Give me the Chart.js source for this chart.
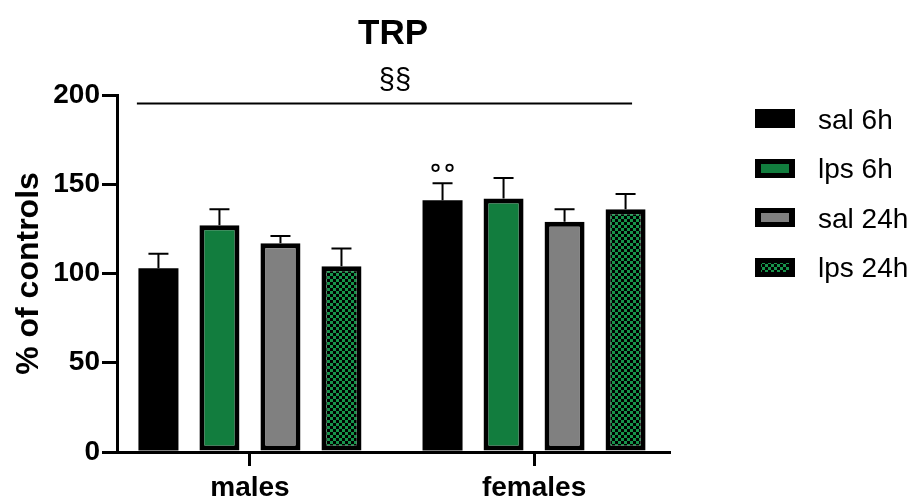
<!DOCTYPE html>
<html>
<head>
<meta charset="utf-8">
<script src="https://cdn.jsdelivr.net/npm/chart.js@4.4.1/dist/chart.umd.min.js"></script>
<style>
  html, body { margin: 0; padding: 0; background: #ffffff; }
  #wrap { width: 914px; height: 498px; }
</style>
</head>
<body>
<div id="wrap"><canvas id="c" width="914" height="498"></canvas></div>
<script>
// Groups and series
const groups = ['males', 'females'];
const seriesNames = ['sal 6h', 'lps 6h', 'sal 24h', 'lps 24h'];

// Mean values (% of controls) per group
const sal6h  = [103, 141];
const lps6h  = [127, 142];
const sal24h = [117, 129];
const lps24h = [104, 136];

// Upper error (SEM) per group
const sal6hErr  = [8, 9.5];
const lps6hErr  = [9, 11.5];
const sal24hErr = [4, 7];
const lps24hErr = [10, 8.5];

const yTicks = [0, 50, 100, 150, 200];

const chartTitle = 'TRP';
const yTitle = '% of controls';
const sigText = '§§';

const FONT = '"Liberation Sans", Arial, Helvetica, sans-serif';
Chart.defaults.font.family = FONT;
Chart.defaults.color = '#000';

const canvas = document.getElementById('c');
const ctx0 = canvas.getContext('2d');

// green / black checkerboard fill
function checker(light, dark, s) {
  const t = document.createElement('canvas');
  t.width = t.height = 2 * s;
  const g = t.getContext('2d');
  g.fillStyle = light; g.fillRect(0, 0, 2 * s, 2 * s);
  g.fillStyle = dark; g.fillRect(0, 0, s, s); g.fillRect(s, s, s, s);
  return ctx0.createPattern(t, 'repeat');
}

const GREEN = '#127d3e';
const fills = ['#000000', GREEN, '#808080', checker('#17934a', '#000000', 3)];
const values = [sal6h, lps6h, sal24h, lps24h];
const errors = [sal6hErr, lps6hErr, sal24hErr, lps24hErr];

const datasets = seriesNames.map((name, i) => ({
  label: name,
  data: values[i].map((v, j) => ({ x: j + 1, y: v })),
  errors: errors[i],
  backgroundColor: fills[i],
  borderColor: '#000',
  // solid black bars need no separate outline
  borderWidth: i === 0 ? 0 : 5,
  borderSkipped: false,
  categoryPercentage: 0.859,
  barPercentage: 0.656
}));

// error bars, significance marks, title and legend
const extras = {
  id: 'extras',
  afterDatasetsDraw(chart) {
    const { ctx, chartArea: ca, scales: { x, y } } = chart;
    ctx.save();
    ctx.strokeStyle = '#000';
    ctx.fillStyle = '#000';

    // error bars (upper only)
    ctx.lineWidth = 2;
    chart.data.datasets.forEach((ds, i) => {
      chart.getDatasetMeta(i).data.forEach((bar, j) => {
        const top = y.getPixelForValue(ds.data[j].y + ds.errors[j]);
        ctx.beginPath();
        ctx.moveTo(bar.x, bar.y);
        ctx.lineTo(bar.x, top);
        ctx.moveTo(bar.x - 10, top);
        ctx.lineTo(bar.x + 10, top);
        ctx.stroke();
      });
    });

    // ° ° above females / sal 6h
    const fb = chart.getDatasetMeta(0).data[1];
    const fTop = y.getPixelForValue(sal6h[1] + sal6hErr[1]);
    ctx.lineWidth = 1.8;
    [-7, 7].forEach(dx => {
      ctx.beginPath();
      ctx.arc(fb.x + dx, fTop - 15.5, 3.2, 0, Math.PI * 2);
      ctx.stroke();
    });

    // §§ bracket across both groups
    const ly = Math.round(y.getPixelForValue(195.5)) + 0.5;
    const lx1 = x.getPixelForValue(0.602), lx2 = x.getPixelForValue(2.345);
    ctx.lineWidth = 2;
    ctx.beginPath();
    ctx.moveTo(lx1, ly);
    ctx.lineTo(lx2, ly);
    ctx.stroke();
    ctx.font = '29px ' + FONT;
    ctx.textAlign = 'center';
    ctx.textBaseline = 'alphabetic';
    ctx.fillText(sigText, (ca.left + ca.right) / 2 + 2, 89);

    // title
    ctx.font = 'bold 35px ' + FONT;
    ctx.fillText(chartTitle, (ca.left + ca.right) / 2, 44);

    // legend
    const lx = 755, bw = 40, bh = 19, step = 49.5, cy0 = 118.5;
    ctx.font = '28px ' + FONT;
    ctx.textAlign = 'left';
    chart.data.datasets.forEach((ds, i) => {
      const cy = cy0 + i * step;
      const by = Math.round(cy - bh / 2);
      ctx.fillStyle = '#000';
      ctx.fillRect(lx, by, bw, bh);
      if (i > 0) {
        ctx.fillStyle = ds.backgroundColor;
        ctx.fillRect(lx + 6, by + 5, bw - 12, bh - 10);
      }
      ctx.fillStyle = '#000';
      ctx.fillText(ds.label, 818, cy + 10);
    });
    ctx.restore();
  }
};

new Chart(canvas, {
  type: 'bar',
  data: { datasets },
  options: {
    responsive: false,
    animation: false,
    layout: { padding: { left: 0, right: 245, top: 95, bottom: 0 } },
    plugins: { legend: { display: false }, tooltip: { enabled: false } },
    scales: {
      x: {
        type: 'linear',
        min: 0.532,
        max: 2.475,
        offset: false,
        afterBuildTicks: s => { s.ticks = groups.map((g, i) => ({ value: i + 1 })); },
        afterFit: s => { s.height = 46; },
        grid: { drawOnChartArea: false, offset: false, tickLength: 14, lineWidth: 3, color: '#000', tickColor: '#000' },
        border: { display: true, color: '#000', width: 3 },
        ticks: {
          callback: v => groups[v - 1] || '',
          font: { size: 28, weight: 'bold' },
          color: '#000',
          padding: 5,
          maxRotation: 0,
          autoSkip: false
        }
      },
      y: {
        min: 0,
        max: 200,
        afterBuildTicks: s => { s.ticks = yTicks.map(v => ({ value: v })); },
        afterFit: s => { s.width = 117; },
        grid: { drawOnChartArea: false, tickLength: 15, lineWidth: 3, color: '#000', tickColor: '#000' },
        border: { display: true, color: '#000', width: 3 },
        ticks: { font: { size: 28, weight: 'bold' }, color: '#000', padding: 2 },
        title: {
          display: true,
          text: yTitle,
          font: { size: 32, weight: 'bold' },
          color: '#000',
          padding: { top: 10, bottom: 0 }
        }
      }
    }
  },
  plugins: [extras]
});
</script>
</body>
</html>
